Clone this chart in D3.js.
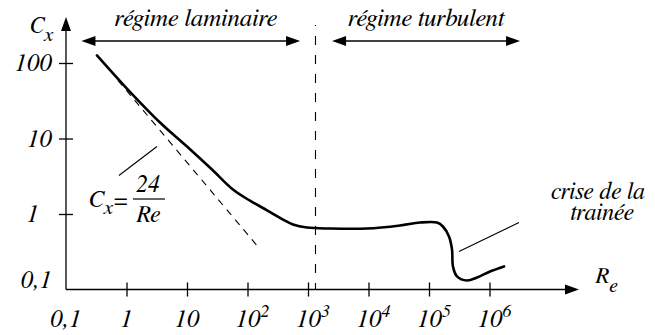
<!DOCTYPE html>
<html>
<head>
<meta charset="UTF-8">
<script src="https://cdn.jsdelivr.net/npm/d3@7"></script>
</head>
<body style="margin:0">
<script>
// ticks of the two log axes
const xTicks = [0.1, 1, 10, 100, 1e3, 1e4, 1e5, 1e6];
const xTickBase = ["0,1", "1", "10", "10", "10", "10", "10", "10"];
const xTickExp = ["", "", "", "2", "3", "4", "5", "6"];
const yTicks = [0.1, 1, 10, 100];
const yTickLabels = ["0,1", "1", "10", "100"];

// drag coefficient curve [Re, Cx]
const cxCurve = [
    [0.325, 126], [0.98, 47.3], [3.58, 16.3], [10, 7.83], [25.9, 3.88],
    [57.5, 2.11], [110, 1.5], [210, 1.12], [386, 0.845], [565, 0.726],
    [962, 0.662], [2310, 0.642], [9440, 0.642], [33200, 0.705], [71000, 0.771],
    [135600, 0.771], [170000, 0.683], [214000, 0.504], [240000, 0.339],
    [249000, 0.202], [290000, 0.149], [425000, 0.1315], [621000, 0.144],
    [1020000, 0.173], [1740000, 0.202]
];

// Stokes law Cx = 24/Re (dashed)
const stokesLine = [[0.72, 59], [155, 0.355]];

// transition laminar / turbulent
const reCritical = 1330;

// regimes shown with double arrows on top
const regimeNames = ["régime laminaire", "régime turbulent"];
const regimeFrom = [0.18, 2500];
const regimeTo = [740, 3.2e6];

// leader lines [Re, Cx] -> [Re, Cx]
const formulaLeader = [[0.75, 3.24], [3.19, 7.83]];
const crisisLeader = [[313000, 0.319], [3.07e6, 0.771]];

const width = 655, height = 335;
const serif = '"FreeSerif", "Liberation Serif", "Tinos", "Times New Roman"';

const x = d3.scaleLog().domain([0.1, 1e6]).range([66, 489.5]);
const y = d3.scaleLog().domain([0.1, 100]).range([289.5, 63]);

const svg = d3.select("body").append("svg")
    .attr("width", width)
    .attr("height", height);

// text helper
function label(g, size) {
    return g.append("text")
        .attr("font-family", serif)
        .attr("font-style", "italic")
        .attr("font-size", size)
        .attr("fill", "#000");
}

function arrowHead(g, tipX, tipY, dir, len = 14, half = 5) {
    // dir: "left" | "right" | "up"
    let pts;
    if (dir === "right") pts = [[tipX, tipY], [tipX - len, tipY - half], [tipX - len, tipY + half]];
    else if (dir === "left") pts = [[tipX, tipY], [tipX + len, tipY - half], [tipX + len, tipY + half]];
    else pts = [[tipX, tipY], [tipX - half, tipY + len], [tipX + half, tipY + len]];
    g.append("polygon").attr("points", pts.map(p => p.join(",")).join(" ")).attr("fill", "#000");
}

// axes
const axes = svg.append("g");
const x0 = x(0.1), y0 = y(0.1);

axes.append("line")
    .attr("x1", x0).attr("x2", 568).attr("y1", y0).attr("y2", y0)
    .attr("stroke", "#000").attr("stroke-width", 1.3);
arrowHead(axes, 579, y0, "right");

axes.append("line")
    .attr("x1", x0).attr("x2", x0).attr("y1", y0).attr("y2", 28)
    .attr("stroke", "#000").attr("stroke-width", 1.3);
arrowHead(axes, x0, 17, "up");

const xAxis = axes.append("g")
    .attr("transform", `translate(0,${y0})`)
    .call(d3.axisBottom(x).tickValues(xTicks).tickSize(7).tickFormat(""));
xAxis.select(".domain").remove();
xAxis.selectAll(".tick line").attr("y1", -7).attr("stroke-width", 1.3);
xAxis.selectAll(".tick").filter(d => d === 0.1).select("line").remove();
xAxis.selectAll(".tick text").remove();

xTicks.forEach((d, i) => {
    const t = label(axes, 25)
        .attr("x", x(d) + (xTickExp[i] ? -12 : 0))
        .attr("y", 327)
        .attr("text-anchor", xTickExp[i] ? "start" : "middle");
    t.append("tspan").text(xTickBase[i]);
    if (xTickExp[i]) t.append("tspan").attr("dy", -10).attr("font-size", 18).text(xTickExp[i]);
});

const yAxis = axes.append("g")
    .attr("transform", `translate(${x0},0)`)
    .call(d3.axisLeft(y).tickValues(yTicks).tickSize(7).tickFormat(""));
yAxis.select(".domain").remove();
yAxis.selectAll(".tick line").attr("x1", 7).attr("stroke-width", 1.3);
yAxis.selectAll(".tick").filter(d => d === 0.1).select("line").remove();
yAxis.selectAll(".tick text").remove();

yTicks.forEach((d, i) => {
    label(axes, 25)
        .attr("x", d === 1 ? 39 : 52)
        .attr("y", y(d) + (d === 0.1 ? -2 : 8))
        .attr("text-anchor", "end")
        .text(yTickLabels[i]);
});

// axis titles
const cx = label(svg, 23).attr("x", 30).attr("y", 33);
cx.append("tspan").text("C");
cx.append("tspan").attr("dy", 8).attr("font-size", 21).text("x");

const re = label(svg, 23).attr("x", 595).attr("y", 283);
re.append("tspan").text("R");
re.append("tspan").attr("dy", 9).attr("font-size", 20).text("e");

// critical Re
svg.append("line")
    .attr("x1", x(reCritical)).attr("x2", x(reCritical))
    .attr("y1", 25).attr("y2", y0)
    .attr("stroke", "#000").attr("stroke-width", 1.1)
    .attr("stroke-dasharray", "9,10")
    .attr("stroke-dashoffset", 8);

// regimes
regimeNames.forEach((name, i) => {
    const a = x(regimeFrom[i]), b = x(regimeTo[i]);
    svg.append("line")
        .attr("x1", a + 10).attr("x2", b - 10).attr("y1", 41).attr("y2", 41)
        .attr("stroke", "#000").attr("stroke-width", 1.5);
    arrowHead(svg, a, 41, "left");
    arrowHead(svg, b, 41, "right");
    label(svg, 25)
        .attr("x", (a + b) / 2 + (i === 0 ? 5 : 0))
        .attr("y", 26)
        .attr("text-anchor", "middle")
        .text(name);
});

// curves
const line = d3.line().x(d => x(d[0])).y(d => y(d[1]));

svg.append("path")
    .datum(stokesLine)
    .attr("d", line)
    .attr("fill", "none")
    .attr("stroke", "#000")
    .attr("stroke-width", 1.1)
    .attr("stroke-dasharray", "7,6");

svg.append("path")
    .datum(cxCurve)
    .attr("d", line.curve(d3.curveCatmullRom.alpha(0.5)))
    .attr("fill", "none")
    .attr("stroke", "#000")
    .attr("stroke-width", 2.6)
    .attr("stroke-linecap", "round");

// leaders
[formulaLeader, crisisLeader].forEach(l => {
    svg.append("line")
        .attr("x1", x(l[0][0])).attr("y1", y(l[0][1]))
        .attr("x2", x(l[1][0])).attr("y2", y(l[1][1]))
        .attr("stroke", "#000").attr("stroke-width", 1.1);
});

// formula Cx = 24/Re
const f = svg.append("g");
const fc = label(f, 24).attr("x", 89).attr("y", 207);
fc.append("tspan").text("C");
fc.append("tspan").attr("dy", 7).attr("font-size", 21).text("x");
label(f, 24).attr("x", 114).attr("y", 208).attr("font-style", "normal").text("=");
label(f, 24).attr("x", 148).attr("y", 192).attr("text-anchor", "middle").text("24");
f.append("line").attr("x1", 133).attr("x2", 165).attr("y1", 199).attr("y2", 199).attr("stroke", "#000").attr("stroke-width", 1.2);
label(f, 24).attr("x", 148).attr("y", 222).attr("text-anchor", "middle").text("Re");

// drag crisis label
label(svg, 24).attr("x", 598).attr("y", 199).attr("text-anchor", "middle").text("crise de la");
label(svg, 24).attr("x", 602).attr("y", 220).attr("text-anchor", "middle").text("trainée");
</script>
</body>
</html>
